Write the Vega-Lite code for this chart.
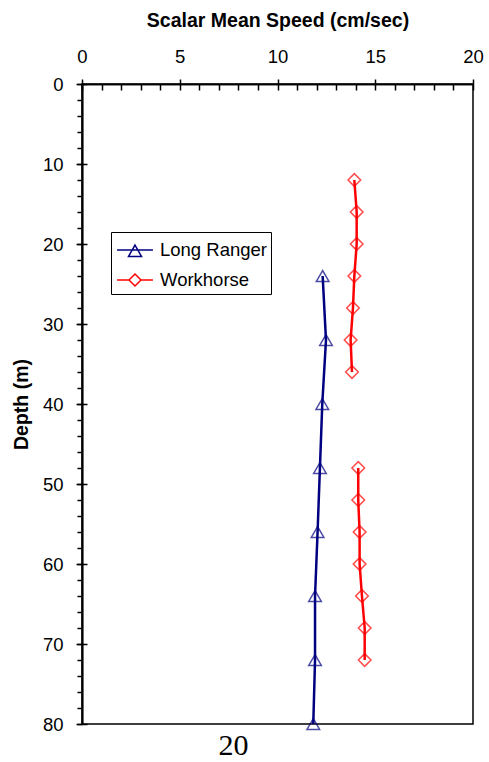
{
  "$schema": "https://vega.github.io/schema/vega-lite/v6.json",
  "autosize": {"type": "none"},
  "padding": {"left": 82, "top": 84, "right": 16, "bottom": 38},
  "width": 391,
  "height": 640,
  "title": {"text": "20", "orient": "bottom", "anchor": "middle", "dx": -44, "offset": -3, "font": "Liberation Serif", "fontSize": 30, "fontWeight": "normal", "color": "#000"},
  "config": {
    "view": {"stroke": "#000", "strokeWidth": 1.5},
    "axis": {"grid": false, "labelFlush": false, "labelFont": "Liberation Sans", "labelFontSize": 18.5, "labelColor": "#000", "titleFont": "Liberation Sans", "titleFontSize": 19.5, "titleFontWeight": "bold", "titleColor": "#000", "domainColor": "#000", "domainWidth": 1.5, "tickColor": "#000", "tickWidth": 1.5},
    "legend": {"labelFont": "Liberation Sans", "labelFontSize": 18.5, "labelColor": "#000"}
  },
  "data": {"values": [
    {"series": "Long Ranger", "seg": "LR", "depth": 24, "speed": 12.31},
    {"series": "Long Ranger", "seg": "LR", "depth": 32, "speed": 12.48},
    {"series": "Long Ranger", "seg": "LR", "depth": 40, "speed": 12.29},
    {"series": "Long Ranger", "seg": "LR", "depth": 48, "speed": 12.17},
    {"series": "Long Ranger", "seg": "LR", "depth": 56, "speed": 12.05},
    {"series": "Long Ranger", "seg": "LR", "depth": 64, "speed": 11.92},
    {"series": "Long Ranger", "seg": "LR", "depth": 72, "speed": 11.92},
    {"series": "Long Ranger", "seg": "LR", "depth": 80, "speed": 11.83},
    {"series": "Workhorse", "seg": "WH1", "depth": 12, "speed": 13.93},
    {"series": "Workhorse", "seg": "WH1", "depth": 16, "speed": 14.05},
    {"series": "Workhorse", "seg": "WH1", "depth": 20, "speed": 14.05},
    {"series": "Workhorse", "seg": "WH1", "depth": 24, "speed": 13.93},
    {"series": "Workhorse", "seg": "WH1", "depth": 28, "speed": 13.86},
    {"series": "Workhorse", "seg": "WH1", "depth": 32, "speed": 13.74},
    {"series": "Workhorse", "seg": "WH1", "depth": 36, "speed": 13.81},
    {"series": "Workhorse", "seg": "WH2", "depth": 48, "speed": 14.13},
    {"series": "Workhorse", "seg": "WH2", "depth": 52, "speed": 14.13},
    {"series": "Workhorse", "seg": "WH2", "depth": 56, "speed": 14.2},
    {"series": "Workhorse", "seg": "WH2", "depth": 60, "speed": 14.2},
    {"series": "Workhorse", "seg": "WH2", "depth": 64, "speed": 14.32},
    {"series": "Workhorse", "seg": "WH2", "depth": 68, "speed": 14.46},
    {"series": "Workhorse", "seg": "WH2", "depth": 72, "speed": 14.46}
  ]},
  "layer": [
    {
      "mark": {"type": "line", "strokeWidth": 2.5},
      "encoding": {
        "x": {"field": "speed", "type": "quantitative", "scale": {"domain": [0, 20]}, "axis": {"orient": "top", "values": [0, 5, 10, 15, 20], "tickSize": 5, "labelPadding": 13, "title": "Scalar Mean Speed (cm/sec)", "titlePadding": 17}},
        "y": {"field": "depth", "type": "quantitative", "scale": {"domain": [0, 80], "reverse": true}, "axis": {"orient": "left", "values": [0, 10, 20, 30, 40, 50, 60, 70, 80], "tickSize": 6, "labelPadding": 13, "title": "Depth (m)", "titlePadding": 11}},
        "color": {"field": "series", "type": "nominal", "scale": {"domain": ["Long Ranger", "Workhorse"], "range": ["#000080", "#ff0000"]}, "legend": null},
        "detail": {"field": "seg"},
        "order": {"field": "depth", "type": "quantitative"}
      }
    },
    {
      "mark": {"type": "point", "filled": false, "size": 160, "strokeWidth": 1.5},
      "encoding": {
        "x": {"field": "speed", "type": "quantitative", "scale": {"domain": [0, 20]}, "axis": {"orient": "top", "values": [0,1,2,3,4,5,6,7,8,9,10,11,12,13,14,15,16,17,18,19,20], "tickSize": -6, "labels": false, "title": null}},
        "y": {"field": "depth", "type": "quantitative", "scale": {"domain": [0, 80], "reverse": true}, "axis": {"orient": "left", "values": [0,2,4,6,8,10,12,14,16,18,20,22,24,26,28,30,32,34,36,38,40,42,44,46,48,50,52,54,56,58,60,62,64,66,68,70,72,74,76,78,80], "tickSize": 5, "labels": false, "title": null}},
        "color": {"field": "series", "type": "nominal", "scale": {"domain": ["Long Ranger", "Workhorse"], "range": ["#000080", "#ff0000"]}, "legend": null},
        "shape": {"field": "series", "type": "nominal", "scale": {"domain": ["Long Ranger", "Workhorse"], "range": ["triangle-up", "diamond"]}, "legend": null}
      }
    },
    {
      "mark": {"type": "point", "filled": false, "opacity": 0, "strokeWidth": 1.5},
      "encoding": {
        "x": {"field": "speed", "type": "quantitative", "scale": {"domain": [0, 20]}, "axis": null},
        "y": {"field": "depth", "type": "quantitative", "scale": {"domain": [0, 80], "reverse": true}, "axis": {"orient": "left", "values": [0, 10, 20, 30, 40, 50, 60, 70, 80], "tickSize": -5, "labels": false, "title": null}},
        "color": {"field": "series", "type": "nominal", "scale": {"domain": ["Long Ranger", "Workhorse"], "range": ["#000080", "#ff0000"]}, "legend": {"title": null, "orient": "none", "legendX": 29, "legendY": 148, "symbolOpacity": 1, "symbolSize": 676, "symbolStrokeWidth": 1.5, "symbolOffset": 6, "labelOffset": 11, "rowPadding": 6, "padding": 4, "strokeColor": "#000", "fillColor": "#fff"}},
        "shape": {"field": "series", "type": "nominal", "scale": {"domain": ["Long Ranger", "Workhorse"], "range": ["M-1.38,0H1.38M0,-0.38L0.5,0.5H-0.5Z", "M-1.38,0H-0.46M0.46,0H1.38M0,-0.46L0.46,0L0,0.46L-0.46,0Z"]}, "legend": {"title": null, "orient": "none", "legendX": 29, "legendY": 148, "symbolOpacity": 1, "symbolSize": 676, "symbolStrokeWidth": 1.5, "symbolOffset": 6, "labelOffset": 11, "rowPadding": 6, "padding": 4, "strokeColor": "#000", "fillColor": "#fff"}}
      }
    }
  ],
  "resolve": {"scale": {"color": "independent", "shape": "independent"}, "axis": {"x": "independent", "y": "independent"}}
}
